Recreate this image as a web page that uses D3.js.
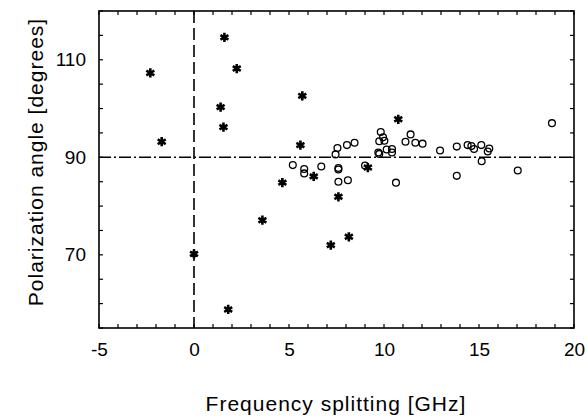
<!DOCTYPE html>
<html>
<head>
<meta charset="utf-8">
<script src="https://cdn.jsdelivr.net/npm/d3@7"></script>
<style>
    body { margin: 0; background: #fff; }
    text { font-family: "Liberation Sans", Arial, Helvetica, sans-serif; fill: #000; }
</style>
</head>
<body>
<script>
// data
let starSplit = [-2.3, -1.7, 0.0, 1.4, 1.55, 1.6, 1.8, 2.25, 3.6, 4.65, 5.6, 5.7, 6.3, 7.2, 7.6, 8.15, 9.15, 10.75];
let starAngle = [107.3, 93.2, 70.2, 100.3, 96.2, 114.6, 58.8, 108.2, 77.1, 84.8, 92.5, 102.6, 86.1, 72.0, 81.9, 73.7, 87.9, 97.8];

let circleSplit = [5.2, 5.8, 5.8, 6.7, 7.45, 7.55, 7.6, 7.6, 7.6, 8.05, 8.1, 8.45, 9.0, 9.7, 9.75, 9.75, 9.83, 9.95, 10.02,
    10.14, 10.42, 10.42, 10.63, 11.13, 11.4, 11.65, 12.03, 12.95, 13.83, 13.83, 14.4, 14.6, 14.74, 15.12, 15.14, 15.46, 15.54, 17.04, 18.84];
let circleAngle = [88.4, 87.6, 86.7, 88.1, 90.6, 91.9, 87.5, 87.8, 85.0, 92.5, 85.3, 93.0, 88.3, 91.0, 90.7, 93.3, 95.2, 94.1, 93.4,
    91.6, 91.7, 91.0, 84.8, 93.2, 94.7, 93.0, 92.8, 91.4, 92.2, 86.2, 92.5, 92.3, 91.7, 92.5, 89.2, 91.2, 91.8, 87.3, 97.0];

let xTicks = [-5, 0, 5, 10, 15, 20];
let yTicks = [70, 90, 110];

let width = 587, height = 417;
let plotLeft = 99, plotRight = 574, plotTop = 11, plotBottom = 328;

let svg = d3.select("body")
    .append("svg")
        .attr("width", width)
        .attr("height", height);

let xScale = d3.scaleLinear()
    .domain([-5, 20])
    .range([plotLeft, plotRight]);

let yScale = d3.scaleLinear()
    .domain([55, 120])
    .range([plotBottom, plotTop]);

// minor ticks every 1 GHz / 5 degrees, inward on all sides
let xMinor = d3.range(-5, 20.01, 1);
let yMinor = d3.range(55, 120.01, 5);

// plain hyphen for the minus, like the original
let xAxis = d3.axisBottom(xScale).tickValues(xTicks).tickSize(0).tickPadding(10).tickFormat(d => String(d));
svg.append("g")
    .attr("transform", `translate(0, ${plotBottom})`)
    .call(xAxis)
    .call(g => g.select(".domain").remove())
    .selectAll("text")
        .style("font-size", "19px")
        .attr("dy", "0.95em");

let yAxis = d3.axisLeft(yScale).tickValues(yTicks).tickSize(0).tickPadding(13).tickFormat(d => String(d));
svg.append("g")
    .attr("transform", `translate(${plotLeft}, 0)`)
    .call(yAxis)
    .call(g => g.select(".domain").remove())
    .selectAll("text")
        .style("font-size", "19px");

let ticks = svg.append("g").attr("stroke", "#000").attr("stroke-width", 1.2);
ticks.selectAll("line.xb")
    .data(xMinor)
    .enter()
        .append("line")
        .attr("class", "xb")
        .attr("x1", d => xScale(d)).attr("x2", d => xScale(d))
        .attr("y1", plotBottom).attr("y2", plotBottom - 4);
ticks.selectAll("line.xt")
    .data(xMinor)
    .enter()
        .append("line")
        .attr("class", "xt")
        .attr("x1", d => xScale(d)).attr("x2", d => xScale(d))
        .attr("y1", plotTop).attr("y2", plotTop + 4);
ticks.selectAll("line.yl")
    .data(yMinor)
    .enter()
        .append("line")
        .attr("class", "yl")
        .attr("y1", d => yScale(d)).attr("y2", d => yScale(d))
        .attr("x1", plotLeft).attr("x2", plotLeft + 4);
ticks.selectAll("line.yr")
    .data(yMinor)
    .enter()
        .append("line")
        .attr("class", "yr")
        .attr("y1", d => yScale(d)).attr("y2", d => yScale(d))
        .attr("x1", plotRight).attr("x2", plotRight - 4);

// reference lines
svg.append("line")
    .attr("x1", xScale(0)).attr("x2", xScale(0))
    .attr("y1", plotTop).attr("y2", plotBottom)
    .attr("stroke", "#000")
    .attr("stroke-width", 1.6)
    .attr("stroke-dasharray", "12,5");

svg.append("line")
    .attr("x1", plotLeft).attr("x2", plotRight)
    .attr("y1", yScale(90)).attr("y2", yScale(90))
    .attr("stroke", "#000")
    .attr("stroke-width", 1.6)
    .attr("stroke-dasharray", "12,3,2,3");

// frame
svg.append("rect")
    .attr("x", plotLeft).attr("y", plotTop)
    .attr("width", plotRight - plotLeft).attr("height", plotBottom - plotTop)
    .attr("fill", "none")
    .attr("stroke", "#000")
    .attr("stroke-width", 1.6);

let circles = circleSplit.map((d, i) => ({ x: d, y: circleAngle[i] }));
let stars = starSplit.map((d, i) => ({ x: d, y: starAngle[i] }));

svg.append("g")
    .selectAll("circle")
    .data(circles)
    .enter()
        .append("circle")
        .attr("cx", d => xScale(d.x))
        .attr("cy", d => yScale(d.y))
        .attr("r", 3.4)
        .attr("fill", "none")
        .attr("stroke", "#000")
        .attr("stroke-width", 1.3);

let star = d3.symbol().type(d3.symbolAsterisk).size(60);
svg.append("g")
    .selectAll("path")
    .data(stars)
    .enter()
        .append("path")
        .attr("d", star)
        .attr("transform", d => `translate(${xScale(d.x)}, ${yScale(d.y)})`)
        .attr("fill", "none")
        .attr("stroke", "#000")
        .attr("stroke-width", 2.6);

// axis titles
svg.append("text")
    .attr("x", (plotLeft + plotRight) / 2 - 0.5)
    .attr("y", 411)
    .attr("text-anchor", "middle")
    .style("font-size", "21px")
    .style("letter-spacing", "1px")
    .text("Frequency splitting [GHz]");

svg.append("text")
    .attr("transform", `translate(43, 162) rotate(-90)`)
    .attr("text-anchor", "middle")
    .style("font-size", "21px")
    .style("letter-spacing", "1px")
    .text("Polarization angle [degrees]");
</script>
</body>
</html>
